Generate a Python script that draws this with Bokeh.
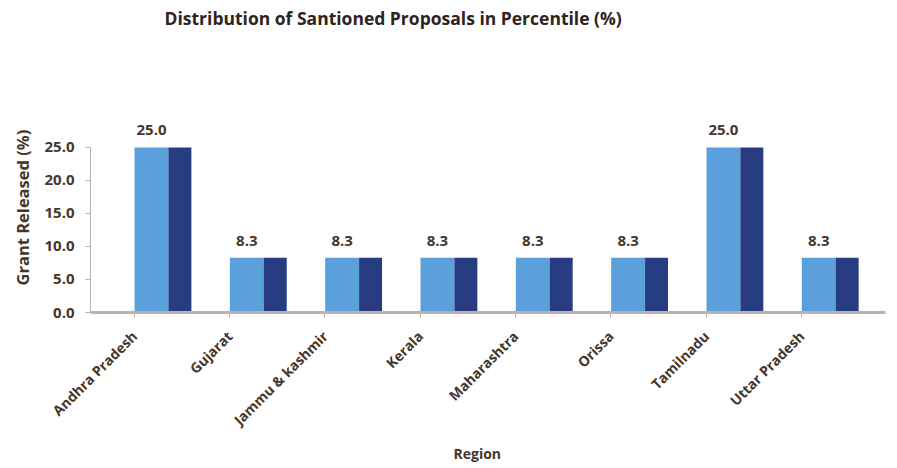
import math
from bokeh.plotting import figure
from bokeh.models import ColumnDataSource, Range1d, FixedTicker, LabelSet, NumeralTickFormatter, Title
from bokeh.core.properties import value
from bokeh.transform import dodge
from bokeh.embed import file_html
from bokeh.resources import INLINE

regions = ["Andhra Pradesh", "Gujarat", "Jammu & kashmir", "Kerala",
           "Maharashtra", "Orissa", "Tamilnadu", "Uttar Pradesh"]
grant_released = [25.0, 8.3, 8.3, 8.3, 8.3, 8.3, 25.0, 8.3]
y_ticks = [0, 5, 10, 15, 20, 25]

positions = list(range(len(regions)))
value_labels = [f"{v:.1f}" for v in grant_released]
src = ColumnDataSource(dict(x=positions, top=grant_released, label=value_labels))

FONT = "Open Sans"
TXT = "#45362c"
AXIS = "#bdb1a9"

p = figure(width=897, height=468, output_backend="svg", toolbar_location=None,
           x_range=Range1d(-0.46, 7.88), y_range=Range1d(0, 42.4),
           min_border_left=90, min_border_right=12, min_border_top=32,
           min_border_bottom=156)
p.title.text = "Distribution of  Santioned Proposals in Percentile (%)"
p.title.text_font = FONT
p.title.text_font_size = "17.5px"
p.title.text_font_style = "bold"
p.title.text_color = "#2e231d"
p.title.align = "left"
p.title.offset = 74
p.title.standoff = 6

# y-axis title as a side title so it centres on the 0-25 axis span
p.add_layout(Title(text="Grant Released (%)", text_font=FONT, text_font_size="16.5px",
                   text_font_style="bold", text_color=TXT, align="left",
                   offset=27, standoff=16), "left")

# x-axis title
p.add_layout(Title(text="Region", text_font=FONT, text_font_size="14px",
                   text_font_style="bold", text_color=TXT, align="left",
                   offset=363, standoff=6), "below")

# front faces and side faces of the bars
p.vbar(x=dodge("x", 0.18), top="top", bottom=0, width=0.356, source=src,
       fill_color="#5aa0da", line_color=None)
p.vbar(x=dodge("x", 0.478), top="top", bottom=0, width=0.241, source=src,
       fill_color="#283c82", line_color=None)

labels = LabelSet(x=dodge("x", 0.18), y="top", text="label", source=src,
                  text_align="center", text_baseline="bottom", y_offset=12,
                  text_font=value(FONT), text_font_size="15px",
                  text_font_style="bold", text_color=TXT)
p.add_layout(labels)

p.xgrid.grid_line_color = None
p.ygrid.grid_line_color = None
p.outline_line_color = None

xa = p.xaxis[0]
xa.ticker = FixedTicker(ticks=positions)
xa.major_label_overrides = {i: r for i, r in zip(positions, regions)}
xa.major_label_orientation = math.pi / 4
xa.major_label_text_font = FONT
xa.major_label_text_font_size = "14px"
xa.major_label_text_font_style = "bold"
xa.major_label_text_color = TXT
xa.major_label_standoff = 16
xa.axis_line_color = AXIS
xa.axis_line_width = 3
xa.major_tick_line_color = AXIS
xa.major_tick_out = 5
xa.major_tick_in = 0
xa.minor_tick_line_color = None

ya = p.yaxis[0]
ya.ticker = FixedTicker(ticks=y_ticks)
ya.bounds = (0, 25)
ya.formatter = NumeralTickFormatter(format="0.0")
ya.major_label_text_font = FONT
ya.major_label_text_font_size = "15px"
ya.major_label_text_font_style = "bold"
ya.major_label_text_color = TXT
ya.major_label_standoff = 11
ya.axis_line_color = AXIS
ya.major_tick_line_color = AXIS
ya.major_tick_out = 5
ya.major_tick_in = 0
ya.minor_tick_line_color = None

open("out.html", "w").write(file_html(p, INLINE))
